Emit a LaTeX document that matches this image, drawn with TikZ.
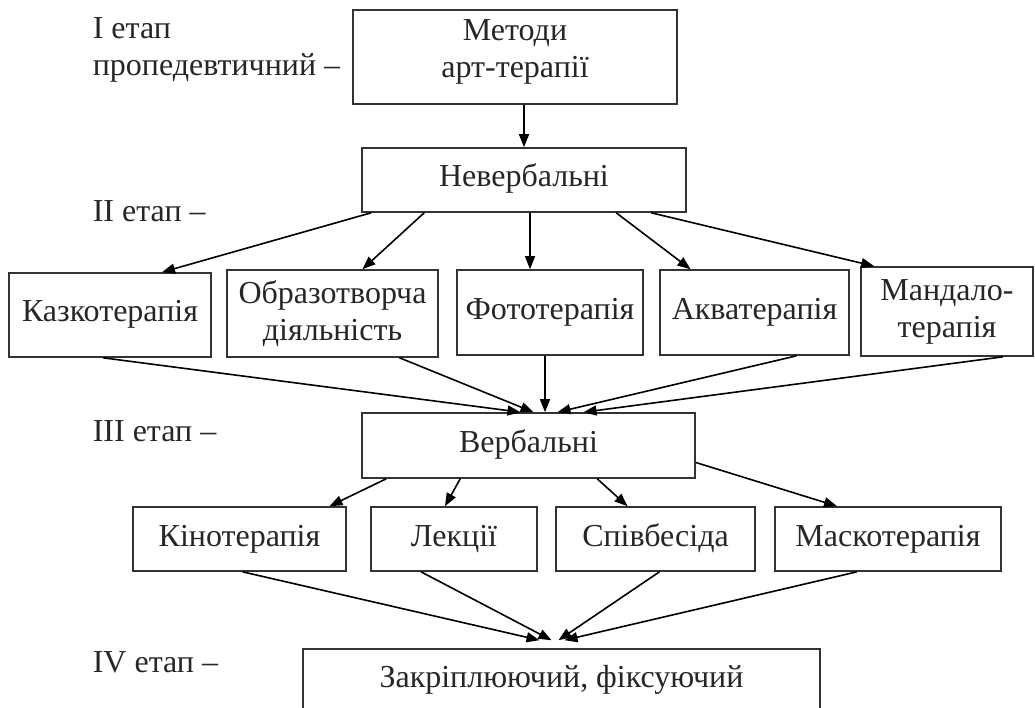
\documentclass[tikz,border=0pt]{standalone}
\usepackage{fontspec}
\setmainfont{Liberation Serif}
\usetikzlibrary{arrows.meta,positioning}

\begin{document}
\begin{tikzpicture}[x=1pt, y=-1pt, line width=1.6pt, >={Triangle[length=13pt,width=10pt]},
    every node/.style={font=\fontsize{32}{37}\selectfont, text=black!85},
    box/.style={draw=black!80, inner sep=0pt, align=center},
    oneline/.style={text height=22pt, text depth=8pt},
    stage/.style={anchor=base west, inner sep=0pt, align=left}]
    \useasboundingbox (0,0) rectangle (1035,708);
    \clip (0,0) rectangle (1035,708);
    % stages
    \node[stage] (st1) at (92,76) {I етап\\пропедевтичний –};
    \node[stage] (st2) at (92,222) {II етап –};
    \node[stage] (st3) at (92,441) {III етап –};
    \node[stage] (st4) at (92,672) {IV етап –};
    % boxes
    \node[box, text depth=17pt, minimum width=324, minimum height=94] (metody) at (515,57) {Методи\\арт-терапії};
    \node[box, oneline, minimum width=324, minimum height=64] (neverb) at (524,180) {Невербальні};
    \node[box, oneline, minimum width=202, minimum height=84] (kazko) at (110,315) {Казкотерапія};
    \node[box, minimum width=211, minimum height=87] (obraz) at (332.5,313.5) {Образотворча\\діяльність};
    \node[box, oneline, minimum width=186, minimum height=85] (foto) at (550,312.5) {Фототерапія};
    \node[box, oneline, minimum width=189, minimum height=85] (akva) at (754.5,312.5) {Акватерапія};
    \node[box, minimum width=172, minimum height=89] (mandalo) at (947,311.5) {Мандало-\\терапія};
    \node[box, oneline, minimum width=333, minimum height=65] (verb) at (528.5,445.5) {Вербальні};
    \node[box, oneline, minimum width=213, minimum height=64] (kino) at (239.5,539) {Кінотерапія};
    \node[box, oneline, minimum width=166, minimum height=64] (lekts) at (454,539) {Лекції};
    \node[box, oneline, minimum width=199, minimum height=64] (spiv) at (655.5,539) {Співбесіда};
    \node[box, oneline, minimum width=226, minimum height=64] (masko) at (888,539) {Маскотерапія};
    \node[box, oneline, minimum width=517, minimum height=62] (zakrip) at (561.5,680) {Закріплюючий, фіксуючий};
    % arrows
    \draw[->] (metody.south -| neverb.north) -- (neverb.north);
    \draw[->] ([xshift=10pt]neverb.south west) -- ([xshift=52pt]kazko.north);
    \draw[->] ([xshift=63pt]neverb.south west) -- ([xshift=30pt]obraz.north);
    \draw[->] ([xshift=-20pt]foto.north |- neverb.south) -- ([xshift=-20pt]foto.north);
    \draw[->] ([xshift=255pt]neverb.south west) -- ([xshift=-64pt]akva.north);
    \draw[->] ([xshift=290pt]neverb.south west) -- ([xshift=14pt]mandalo.north west);
    \draw[->] ([xshift=-7pt]kazko.south) -- ([xshift=-8pt]verb.north);
    \draw[->] ([xshift=67pt]obraz.south) -- ([xshift=5pt]verb.north);
    \draw[->] ([xshift=-5pt]foto.south) -- ([xshift=-5pt]foto.south |- verb.north);
    \draw[->] ([xshift=42pt]akva.south) -- ([xshift=29pt]verb.north);
    \draw[->] ([xshift=56pt]mandalo.south) -- ([xshift=55pt]verb.north);
    \draw[->] ([xshift=25pt]verb.south west) -- ([xshift=90pt]kino.north);
    \draw[->] ([xshift=99pt]verb.south west) -- ([xshift=-9pt]lekts.north);
    \draw[->] ([xshift=236pt]verb.south west) -- ([xshift=-28pt]spiv.north);
    \draw[->] ([yshift=-17pt]verb.east) -- ([xshift=-51pt]masko.north);
    \foreach \n/\a/\b in {kino/3/-22, lekts/-33/-10, spiv/4/-3, masko/-31/3}
        \draw[->] ([xshift=\a pt]\n.south) -- ([xshift=\b pt, yshift=8pt]zakrip.north);
\end{tikzpicture}
\end{document}
